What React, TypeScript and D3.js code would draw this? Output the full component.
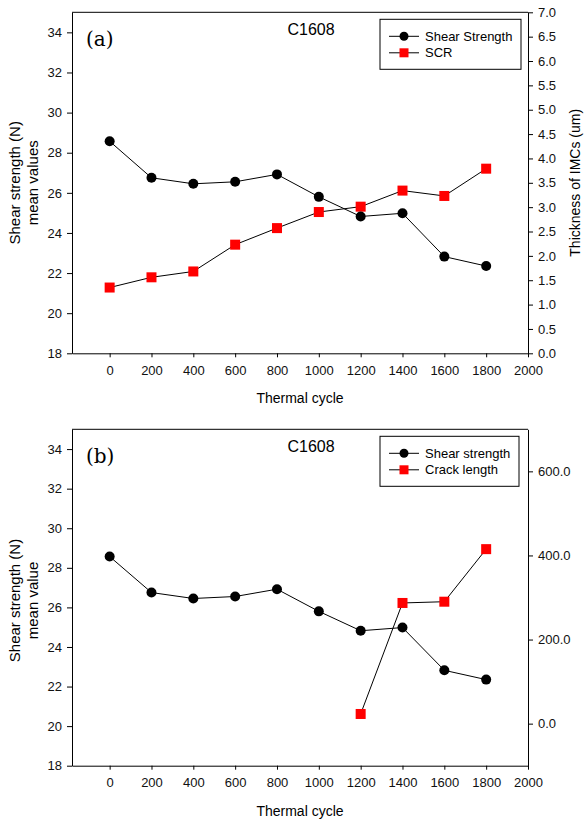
import React, {useEffect, useRef} from "react";
import * as d3 from "d3";

const cycles = [0, 200, 400, 600, 800, 1000, 1200, 1400, 1600, 1800];
const shearA = [28.57, 26.75, 26.45, 26.55, 26.92, 25.8, 24.82, 24.98, 22.82, 22.35];
const scrA = [1.35, 1.56, 1.68, 2.23, 2.57, 2.9, 3.01, 3.34, 3.23, 3.79];
const shearB = [28.57, 26.75, 26.45, 26.55, 26.92, 25.8, 24.82, 24.98, 22.82, 22.35];
const crackCycles = [1200, 1400, 1600, 1800];
const crackB = [23, 287, 290, 415];

const xTicks = [0, 200, 400, 600, 800, 1000, 1200, 1400, 1600, 1800, 2000];
const leftTicks = [18, 20, 22, 24, 26, 28, 30, 32, 34];
const rightTicksA = d3.range(0, 7.01, 0.5);
const rightTicksB = [0, 200, 400, 600];

const FONT = "'Liberation Sans', Arial, sans-serif";

type Panel = {
    top: number;
    bottom: number;
    label: string;
    shear: number[];
    second: number[];
    secondX: number[];
    rightDomain: [number, number];
    rightTicks: number[];
    rightFmt: (d: number) => string;
    leftTitle: string[];
    rightTitle: string;
    legend: string[];
};

const panels: Panel[] = [
    {
        top: 12.3, bottom: 353.3, label: "(a)", shear: shearA, second: scrA, secondX: cycles,
        rightDomain: [0, 7], rightTicks: rightTicksA, rightFmt: d3.format(".1f"),
        leftTitle: ["Shear strength (N)", "mean values"], rightTitle: "Thickness of IMCs (um)",
        legend: ["Shear Strength", "SCR"]
    },
    {
        top: 429.3, bottom: 765.7, label: "(b)", shear: shearB, second: crackB, secondX: crackCycles,
        rightDomain: [-100, 700], rightTicks: rightTicksB, rightFmt: d3.format(".1f"),
        leftTitle: ["Shear strength (N)", "mean value"], rightTitle: "",
        legend: ["Shear strength", "Crack length"]
    }
];

const App = () => {
    const ref = useRef<SVGSVGElement>(null);

    useEffect(() => {
        const svg = d3.select(ref.current);
        svg.selectAll("*").remove();
        const left = 72, right = 528;

        panels.forEach((p, pi) => {
            const g = svg.append("g");
            const x = d3.scaleLinear().domain([-180, 2000]).range([left, right]);
            const y = d3.scaleLinear().domain([18, 35]).range([p.bottom, p.top]);
            const y2 = d3.scaleLinear().domain(p.rightDomain).range([p.bottom, p.top]);

            // frame top line
            g.append("line").attr("x1", left).attr("x2", right).attr("y1", p.top).attr("y2", p.top)
                .attr("stroke", "#000").attr("stroke-width", 1);

            const styleAxis = (sel: any) => {
                sel.select(".domain").attr("stroke", "#000");
                sel.selectAll("text").attr("font-family", FONT).attr("font-size", 13).attr("fill", "#111");
            };

            g.append("g").attr("transform", `translate(0,${p.bottom})`)
                .call(d3.axisBottom(x).tickValues(xTicks).tickSize(4).tickPadding(8).tickSizeOuter(0).tickFormat(d3.format("d")))
                .call(styleAxis);
            g.append("g").attr("transform", `translate(${left},0)`)
                .call(d3.axisLeft(y).tickValues(leftTicks).tickSize(5).tickPadding(5).tickSizeOuter(0))
                .call(styleAxis);
            g.append("g").attr("transform", `translate(${right},0)`)
                .call(d3.axisRight(y2).tickValues(p.rightTicks).tickSize(5).tickPadding(5).tickSizeOuter(0).tickFormat(p.rightFmt))
                .call(styleAxis);

            const line = d3.line<[number, number]>().x(d => d[0]).y(d => d[1]);

            // second series
            const pts2: [number, number][] = p.second.map((v, i) => [x(p.secondX[i]), y2(v)]);
            g.append("path").attr("d", line(pts2)).attr("fill", "none").attr("stroke", "#000").attr("stroke-width", 1);

            // shear series
            const pts1: [number, number][] = p.shear.map((v, i) => [x(cycles[i]), y(v)]);
            g.append("path").attr("d", line(pts1)).attr("fill", "none").attr("stroke", "#000").attr("stroke-width", 1);

            g.selectAll(".sq").data(pts2).join("rect")
                .attr("x", d => d[0] - 5).attr("y", d => d[1] - 5).attr("width", 10).attr("height", 10).attr("fill", "#ff0000");
            g.selectAll(".ci").data(pts1).join("circle")
                .attr("cx", d => d[0]).attr("cy", d => d[1]).attr("r", 5).attr("fill", "#000");

            // panel label and title
            g.append("text").attr("x", 86).attr("y", p.top + 34).attr("font-family", "'DejaVu Serif', serif")
                .attr("font-size", 20).text(p.label);
            g.append("text").attr("x", 311).attr("y", p.top + 23).attr("text-anchor", "middle")
                .attr("font-family", FONT).attr("font-size", 16).text("C1608");

            // legend
            const lx = 380, ly = p.top + 7;
            g.append("rect").attr("x", lx).attr("y", ly).attr("width", pi === 0 ? 141 : 139).attr("height", 50)
                .attr("fill", "#fff").attr("stroke", "#000").attr("stroke-width", 1);
            p.legend.forEach((t, i) => {
                const yy = ly + 17 + i * 16.5;
                g.append("line").attr("x1", lx + 9).attr("x2", lx + 39).attr("y1", yy).attr("y2", yy)
                    .attr("stroke", "#000").attr("stroke-width", 1);
                if (i === 0) {
                    g.append("circle").attr("cx", lx + 24).attr("cy", yy).attr("r", 4.5).attr("fill", "#000");
                } else {
                    g.append("rect").attr("x", lx + 19.5).attr("y", yy - 4.5).attr("width", 9).attr("height", 9).attr("fill", "#ff0000");
                }
                g.append("text").attr("x", lx + 45).attr("y", yy + 4.5).attr("font-family", FONT)
                    .attr("font-size", 13).text(t);
            });

            // axis titles
            g.append("text").attr("x", 300).attr("y", p.bottom + 50).attr("text-anchor", "middle")
                .attr("font-family", FONT).attr("font-size", 14).text("Thermal cycle");
            const cy = (p.top + p.bottom) / 2 + (pi === 1 ? 3 : 0);
            p.leftTitle.forEach((t, i) => {
                g.append("text").attr("transform", `translate(${20 + i * 18},${cy}) rotate(-90)`)
                    .attr("text-anchor", "middle").attr("font-family", FONT).attr("font-size", 15).text(t);
            });
            if (p.rightTitle) {
                g.append("text").attr("transform", `translate(580,${cy}) rotate(-90)`)
                    .attr("text-anchor", "middle").attr("font-family", FONT).attr("font-size", 14).text(p.rightTitle);
            }
        });
    }, []);

    return (
        <svg ref={ref} width={584} height={822}
             style={{position: "absolute", left: 0, top: 0, background: "#fff"}}/>
    );
};

export default App;
